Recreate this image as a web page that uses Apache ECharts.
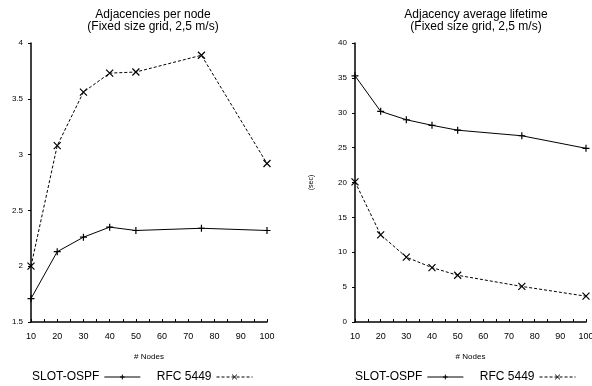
<!DOCTYPE html>
<html><head><meta charset="utf-8">
<script src="https://cdn.jsdelivr.net/npm/echarts@6/dist/echarts.min.js"></script>
<style>html,body{margin:0;padding:0;background:#fff}#c{width:592px;height:386px}</style>
</head><body><div id="c"></div>
<script>
const nodes = [10, 20, 30, 40, 50, 75, 100];
const adjSlot = [1.71, 2.13, 2.26, 2.35, 2.32, 2.34, 2.32];
const adjRfc = [2.0, 3.08, 3.56, 3.73, 3.74, 3.89, 2.92];
const lifeSlot = [35.3, 30.2, 29.0, 28.2, 27.5, 26.7, 24.9];
const lifeRfc = [20.1, 12.5, 9.3, 7.8, 6.7, 5.1, 3.7];
const title1 = 'Adjacencies per node\n(Fixed size grid, 2,5 m/s)';
const title2 = 'Adjacency average lifetime\n(Fixed size grid, 2,5 m/s)';
const F = 'Liberation Sans, Arial, sans-serif';
const plus = 'path://M0,5 L10,5 M5,0 L5,10';
const cross = 'path://M0,0 L10,10 M10,0 L0,10';
function pairs(v){ return nodes.map((n,i)=>[n,v[i]]); }
function xAxis(idx){
  return {gridIndex:idx, type:'value', min:10, max:100, interval:10,
    name:'# Nodes', nameLocation:'middle', nameGap:31, nameTextStyle:{fontFamily:F,fontSize:8,color:'#000'},
    axisLine:{lineStyle:{color:'#000',width:1.5}}, axisTick:{show:true,inside:true,length:3,lineStyle:{color:'#000'}},
    minorTick:{show:true,splitNumber:2,length:3,lineStyle:{color:'#000'}},
    splitLine:{show:false}, axisLabel:{fontFamily:F,fontSize:9,color:'#000',margin:10}};
}
function yAxis(idx,min,max,iv,name){
  return {gridIndex:idx, type:'value', min:min, max:max, interval:iv,
    name:name, nameLocation:'middle', nameGap:40, nameRotate:90, nameTextStyle:{fontFamily:F,fontSize:7,color:'#000'},
    axisLine:{show:true,lineStyle:{color:'#000',width:1.5}}, axisTick:{show:true,length:3,lineStyle:{color:'#000'}},
    splitLine:{show:false}, axisLabel:{fontFamily:F,fontSize:8,color:'#000',margin:8}};
}
function ser(name,idx,data,sym,dashed){
  return {name:name, type:'line', xAxisIndex:idx, yAxisIndex:idx, data:pairs(data),
    symbol:sym, symbolSize:7, showAllSymbol:true, animation:false,
    lineStyle:{color:'#000',width:1,type:dashed?[3,2]:'solid'},
    itemStyle:{color:'transparent',borderColor:'#000',borderWidth:1.2}};
}
function legend(left){
  return {left:left,top:366,align:'right',itemGap:16,itemWidth:36,itemHeight:6,
    itemStyle:{borderWidth:1},lineStyle:{width:1},
    textStyle:{fontFamily:F,fontSize:12,color:'#000'},data:['SLOT-OSPF','RFC 5449']};
}
const chart = echarts.init(document.getElementById('c'));
chart.setOption({
  animation:false,
  title:[
    {text:title1,left:148,textAlign:'center',top:4,textStyle:{fontFamily:F,fontSize:12,fontWeight:'normal',color:'#000',lineHeight:12}},
    {text:title2,left:471,textAlign:'center',top:4,textStyle:{fontFamily:F,fontSize:12,fontWeight:'normal',color:'#000',lineHeight:12}}
  ],
  grid:[{left:31,top:43,width:236,height:279,outerBoundsMode:'none'},{left:355,top:43,width:231,height:279,outerBoundsMode:'none'}],
  xAxis:[xAxis(0),xAxis(1)],
  yAxis:[yAxis(0,1.5,4,0.5,''),yAxis(1,0,40,5,'(sec)')],
  legend:[legend(27),legend(350)],
  series:[
    ser('SLOT-OSPF',0,adjSlot,plus,false),
    ser('RFC 5449',0,adjRfc,cross,true),
    ser('SLOT-OSPF',1,lifeSlot,plus,false),
    ser('RFC 5449',1,lifeRfc,cross,true)
  ]
});
</script></body></html>
